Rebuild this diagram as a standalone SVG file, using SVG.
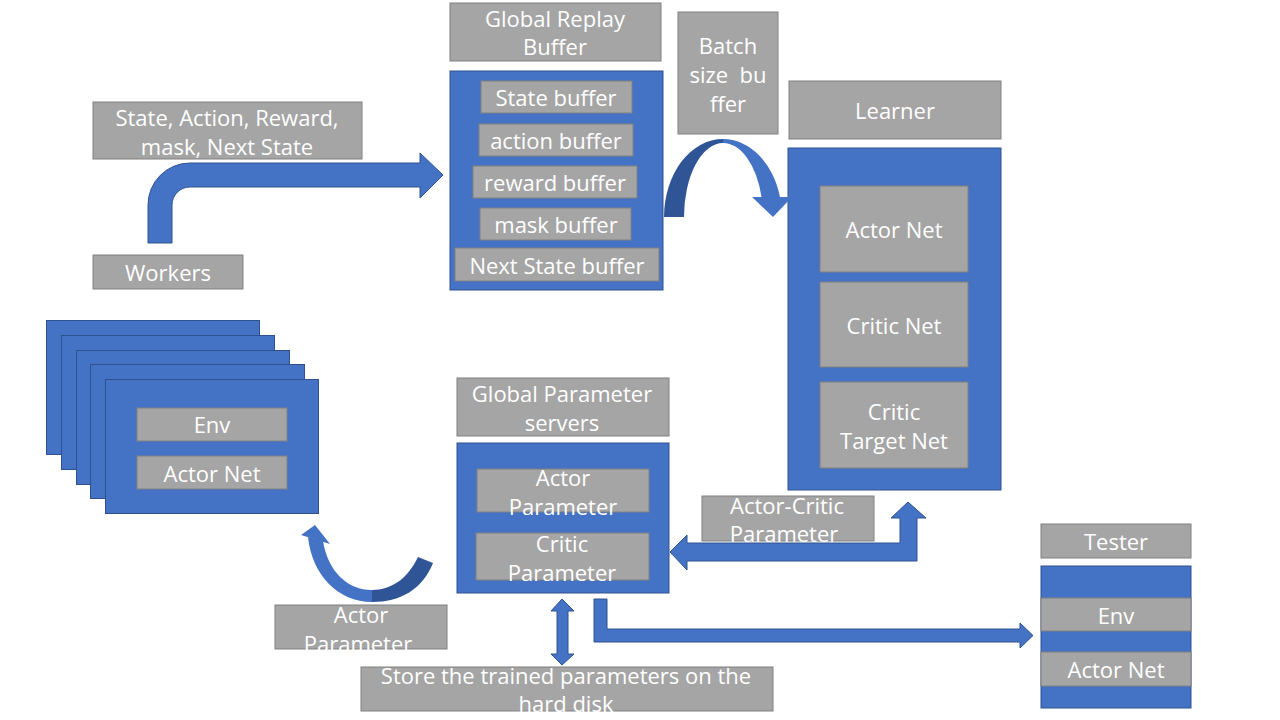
<svg xmlns="http://www.w3.org/2000/svg" width="1280" height="720" viewBox="0 0 1280 720">
<style>
.g{fill:#A5A5A5;stroke:#808080;stroke-width:1}
.b{fill:#4472C4;stroke:#2F528F;stroke-width:1}
.bd{fill:#2F5597;stroke:none}
.bl{fill:#4472C4;stroke:none}
.t{font-family:"Open Sans","Noto Sans",sans-serif;font-size:22px;fill:#FFFFFF;text-anchor:middle;dominant-baseline:central}
</style>
<rect width="1280" height="720" fill="#FFFFFF"/>

<g id="replay-buffer-label">
<rect class="g" x="450" y="3" width="211" height="58"/>
<text class="t" x="555" y="18">Global Replay</text>
<text class="t" x="555" y="46">Buffer</text>
</g>
<g id="replay-buffer">
<rect class="b" x="450" y="71" width="213" height="219"/>
<rect class="g" x="481" y="81" width="151" height="32"/>
<text class="t" x="556" y="97">State buffer</text>
<rect class="g" x="479" y="124" width="154" height="32"/>
<text class="t" x="556" y="140">action buffer</text>
<rect class="g" x="473" y="166" width="164" height="32"/>
<text class="t" x="555" y="182">reward buffer</text>
<rect class="g" x="480" y="208" width="151" height="32"/>
<text class="t" x="556" y="224">mask buffer</text>
<rect class="g" x="455" y="248" width="204" height="33"/>
<text class="t" x="557" y="265">Next State buffer</text>
</g>

<g id="batch-buffer">
<rect class="g" x="678" y="12" width="100" height="122"/>
<text class="t" x="728" y="45">Batch</text>
<text class="t" x="728" y="74" xml:space="preserve">size  bu</text>
<text class="t" x="728" y="103">ffer</text>
</g>

<g id="learner-label">
<rect class="g" x="789" y="81" width="212" height="58"/>
<text class="t" x="895" y="110">Learner</text>
</g>
<g id="learner">
<rect class="b" x="788" y="148" width="213" height="342"/>
<rect class="g" x="820" y="186" width="148" height="86"/>
<text class="t" x="894" y="229">Actor Net</text>
<rect class="g" x="820" y="282" width="148" height="85"/>
<text class="t" x="894" y="325">Critic Net</text>
<rect class="g" x="820" y="382" width="148" height="86"/>
<text class="t" x="894" y="411">Critic</text>
<text class="t" x="894" y="440">Target Net</text>
</g>

<g id="transition-label">
<rect class="g" x="93" y="102" width="269" height="57"/>
<text class="t" x="227" y="117">State, Action, Reward,</text>
<text class="t" x="227" y="146">mask, Next State</text>
</g>

<g id="workers-label">
<rect class="g" x="93" y="255" width="150" height="34"/>
<text class="t" x="168" y="272">Workers</text>
</g>
<g id="workers">
<rect class="b" x="46.5" y="320.5" width="213" height="134"/>
<rect class="b" x="61.5" y="335.5" width="213" height="134"/>
<rect class="b" x="76.5" y="350.5" width="213" height="134"/>
<rect class="b" x="90.5" y="364.5" width="214" height="134"/>
<rect class="b" x="105.5" y="379.5" width="213" height="134"/>
<rect class="g" x="137" y="408" width="150" height="33"/>
<text class="t" x="212" y="424">Env</text>
<rect class="g" x="137" y="456" width="150" height="33"/>
<text class="t" x="212" y="473">Actor Net</text>
</g>

<g id="param-server-label">
<rect class="g" x="457" y="378" width="212" height="58"/>
<text class="t" x="562" y="393">Global Parameter</text>
<text class="t" x="562" y="422">servers</text>
</g>
<g id="param-server">
<rect class="b" x="457" y="443" width="212" height="150"/>
<rect class="g" x="477" y="469" width="172" height="43"/>
<text class="t" x="563" y="477">Actor</text>
<text class="t" x="563" y="506">Parameter</text>
<rect class="g" x="476" y="533" width="173" height="47"/>
<text class="t" x="562" y="543">Critic</text>
<text class="t" x="562" y="572">Parameter</text>
</g>

<g id="actor-param-label">
<rect class="g" x="275" y="605" width="172" height="44"/>
<text class="t" x="361" y="614">Actor</text>
<text class="t" x="358" y="643">Parameter</text>
</g>

<g id="ac-param-label">
<rect class="g" x="702" y="496" width="172" height="45"/>
<text class="t" x="787" y="505">Actor-Critic</text>
<text class="t" x="784" y="533">Parameter</text>
</g>

<g id="store-label">
<rect class="g" x="361" y="667" width="412" height="44"/>
<text class="t" x="566" y="675">Store the trained parameters on the</text>
<text class="t" x="566" y="703">hard disk</text>
</g>

<g id="tester-label">
<rect class="g" x="1041" y="524" width="150" height="34"/>
<text class="t" x="1116" y="541">Tester</text>
</g>
<g id="tester">
<rect class="b" x="1041" y="566" width="150" height="142"/>
<rect class="g" x="1041" y="598" width="150" height="33"/>
<text class="t" x="1116" y="615">Env</text>
<rect class="g" x="1041" y="652" width="150" height="34"/>
<text class="t" x="1116" y="669">Actor Net</text>
</g>

<g id="connectors">
<path class="b" d="M148,243 L148,205 A42,42 0 0 1 190,163 L420,163 L420,153 L443,175 L420,198 L420,187 L190,187 A18,18 0 0 0 172,205 L172,243 Z"/>
<path class="bd" d="M664,217 A59,78 0 0 1 723,139 L723,143 A39,74 0 0 0 684,217 Z"/>
<path class="bl" d="M723,139 A59,78 0 0 1 780,197 L792,197 L773,217 L752,197 L761.5,197 A40,74 0 0 0 723,143 Z"/>
<path class="bl" d="M308,537 C312,575 338,602 372,602 L372,590 C348,590 328,572 323,541 Z"/>
<polygon class="bl" points="301,535 315,525 330,544"/>
<path class="bd" d="M372,602 C400,602 422,590 433,563 L418,557 C408,578 392,590 372,590 Z"/>
<path class="b" d="M670,552 L687,535 L687,543 L900,543 L900,518 L891,518 L908,502 L926,518 L917,518 L917,561 L687,561 L687,570 Z"/>
<path class="b" d="M562,599 L574,611 L568,611 L568,654 L574,654 L562,665 L551,654 L557,654 L557,611 L551,611 Z"/>
<path class="b" d="M594,599 L607,599 L607,629 L1020,629 L1020,623 L1033,635.5 L1020,648 L1020,642 L594,642 Z"/>
</g>
</svg>
